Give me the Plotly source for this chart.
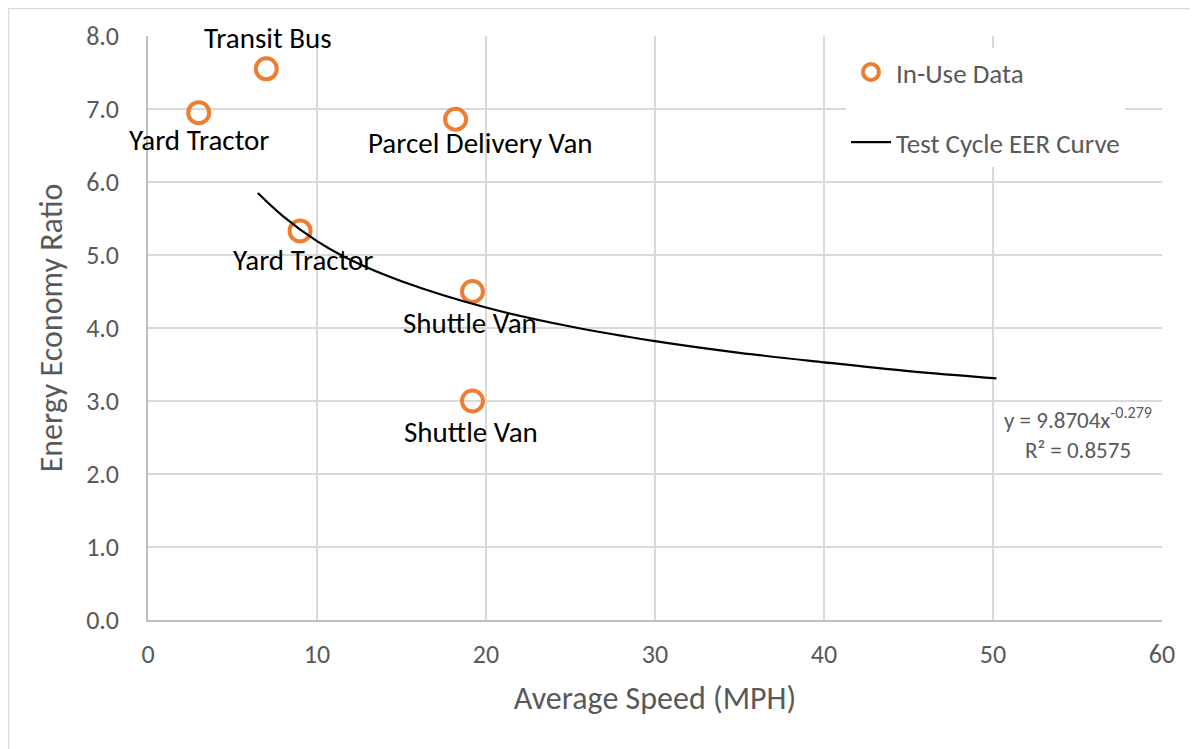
import plotly.graph_objects as go

# In-use data points
speed = [3.0, 7.0, 18.2, 9.0, 19.2, 19.2]
eer = [6.95, 7.55, 6.86, 5.33, 4.50, 3.00]
labels = ["Yard Tractor", "Transit Bus", "Parcel Delivery Van", "Yard Tractor", "Shuttle Van", "Shuttle Van"]

# Test cycle EER curve
curve_x = [6.5, 8, 10, 12, 15, 20, 25, 30, 35, 40, 45, 50.2]
curve_y = [5.85, 5.53, 5.19, 4.93, 4.64, 4.28, 4.02, 3.82, 3.66, 3.53, 3.41, 3.31]

# label offsets (px)
label_dx = [0, 2, 25, 3, -2, -1]
label_dy = [-27, 31, -24, -29, -31, -31]

FONT = "Carlito, Calibri, Lato, sans-serif"
GRAY = "#595959"
ORANGE = "#ED7D31"

W, H = 1190, 741
L, R, T, B = 140, 36, 28, 129
PW, PH = W - L - R, H - T - B


def px(xp):
    return (xp - 8 - L) / PW


def py(yp):
    return (H - B - (yp - 8)) / PH


fig = go.Figure()
fig.add_trace(go.Scatter(
    x=speed, y=eer, mode="markers", name="In-Use Data", legendgroup="a",
    marker=dict(symbol="circle-open", size=21, color=ORANGE, line=dict(width=4, color=ORANGE)),
))
fig.add_trace(go.Scatter(
    x=curve_x, y=curve_y, mode="lines", name="Test Cycle EER Curve", legendgroup="b",
    line=dict(color="black", width=2.2, shape="spline"),
))

for x, y, t, dx, dy in zip(speed, eer, labels, label_dx, label_dy):
    fig.add_annotation(x=x, y=y, text=t, showarrow=False, xshift=dx, yshift=dy,
                       font=dict(family=FONT, size=29, color="black"))

fig.add_annotation(x=px(1078), y=py(433), xref="paper", yref="paper",
                   xanchor="center", yanchor="middle",
                   text="y = 9.8704x<sup>-0.279</sup><br>R² = 0.8575", showarrow=False,
                   font=dict(family=FONT, size=23, color=GRAY), align="center")

# outer chart border
fig.add_shape(type="rect", xref="paper", yref="paper",
              x0=px(8.5), x1=px(1230), y0=py(770), y1=py(8.5),
              line=dict(color="#d9d9d9", width=1.5), fillcolor="rgba(0,0,0,0)", layer="below")

fig.update_layout(
    width=W, height=H,
    margin=dict(l=L, r=R, t=T, b=B),
    paper_bgcolor="white", plot_bgcolor="white",
    font=dict(family=FONT, color=GRAY),
    legend=dict(x=px(846), y=py(48), xanchor="left", yanchor="top",
                bgcolor="white", font=dict(family=FONT, size=27, color=GRAY),
                traceorder="grouped", tracegroupgap=32, itemwidth=40),
    xaxis=dict(range=[0, 60], dtick=10, showgrid=True, gridcolor="#d9d9d9", gridwidth=1.5,
               showline=True, linecolor="#bfbfbf", linewidth=1.5, zeroline=False,
               tickfont=dict(family=FONT, size=26, color=GRAY), ticklabelstandoff=10,
               title=dict(text="Average Speed (MPH)", font=dict(family=FONT, size=32, color=GRAY), standoff=18)),
    yaxis=dict(range=[0, 8], dtick=1, tickformat=".1f", showgrid=True, gridcolor="#d9d9d9", gridwidth=1.5,
               showline=True, linecolor="#bfbfbf", linewidth=1.5, zeroline=False,
               tickfont=dict(family=FONT, size=26, color=GRAY), ticklabelstandoff=22,
               title=dict(text="Energy Economy Ratio", font=dict(family=FONT, size=32, color=GRAY), standoff=14)),
)

fig.write_html("out.html")
